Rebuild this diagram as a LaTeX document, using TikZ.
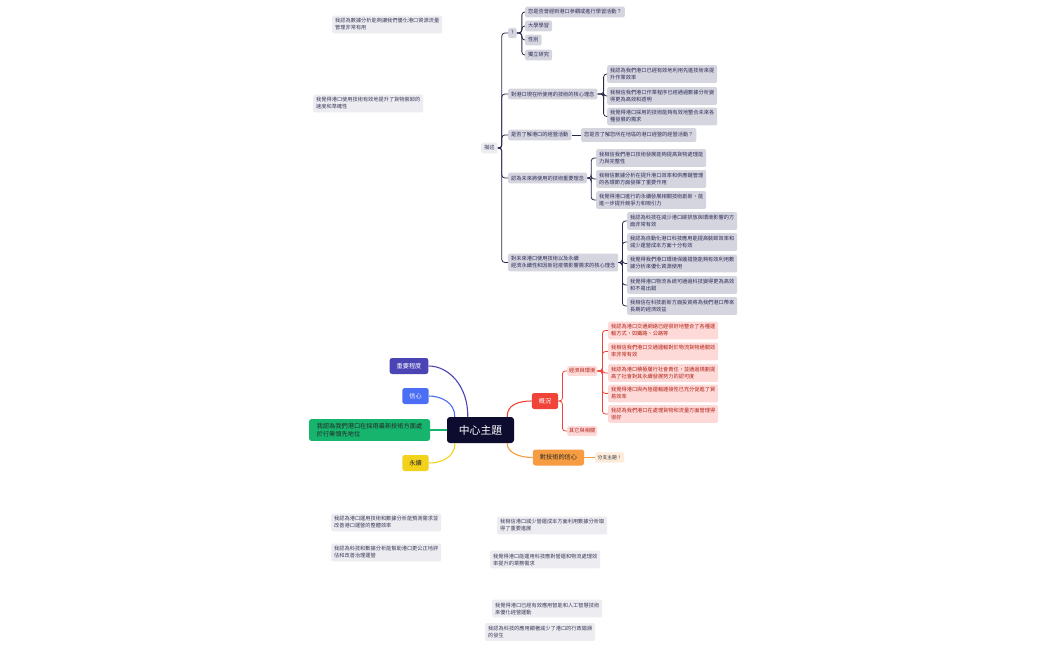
\documentclass[tikz,border=0pt]{standalone}
\usepackage{fontspec}
\setmainfont{Noto Sans CJK TC}
\usetikzlibrary{calc}
\definecolor{tline}{HTML}{2A2A4A}
\definecolor{tfill}{HTML}{D5D5DF}
\definecolor{ttext}{HTML}{2D2D5A}
\definecolor{nfill}{HTML}{EDEDF1}
\definecolor{ntext}{HTML}{3A3A5A}
\definecolor{ctrfill}{HTML}{0D0B2E}
\definecolor{indig}{HTML}{4B44B5}
\definecolor{bluec}{HTML}{4C6EF5}
\definecolor{greenc}{HTML}{17B46E}
\definecolor{yellc}{HTML}{F2D21C}
\definecolor{redc}{HTML}{F04438}
\definecolor{orangec}{HTML}{F79C42}
\definecolor{pfill}{HTML}{FDD9D7}
\definecolor{ptext}{HTML}{B42318}
\definecolor{peach}{HTML}{FDEBDC}
\tikzset{
  basebox/.style={font=\fontsize{5.2}{7}\selectfont, align=left, inner xsep=3pt, inner ysep=3pt, rounded corners=2pt, anchor=west},
  gnode/.style={basebox, fill=tfill, text=ttext},
  notebox/.style={basebox, fill=nfill, text=ntext},
  pnode/.style={basebox, fill=pfill, text=ptext},
  branch/.style={font=\fontsize{6.2}{8}\selectfont, inner xsep=7pt, minimum height=16pt, rounded corners=2.5pt},
  tl/.style={draw=tline, line width=0.8pt, rounded corners=3pt},
  rl/.style={draw=redc, line width=0.8pt, rounded corners=3pt},
}
\begin{document}
\begin{tikzpicture}[x=1pt,y=-1pt]
\useasboundingbox[fill=white] (0,0) rectangle (1049,650);

% floating notes
\node[notebox] (n1) at (332,24.5) {我認為數據分析能夠讓我們優化港口資源流量\\管理非常有用};
\node[notebox] (n2) at (313,103.5) {我覺得港口使用技術有效地提升了貨物裝卸的\\速度和準確性};
\node[notebox] (n3) at (331,522.5) {我認為港口運用技術和數據分析能預測需求並\\改善港口運營的整體效率};
\node[notebox] (n4) at (331,552.5) {我認為科技和數據分析能幫助港口更公正地評\\估和改善治理運營};
\node[notebox] (n5) at (497,525.5) {我相信港口減少營運成本方面利用數據分析取\\得了重要進展};
\node[notebox] (n6) at (490,559.5) {我覺得港口能運用科技應對營運和物流處理效\\率提升的業務需求};
\node[notebox] (n7) at (492,608.5) {我覺得港口已經有效應用智能和人工智慧技術\\來優化經營運動};
\node[notebox] (n8) at (485,632) {我認為科技的應用顯著減少了港口的行政錯誤\\的發生};

% top tree
\node[notebox] (desc) at (481,148) {描述};
\node[gnode] (q) at (508,33) {?};
\node[gnode] (q1) at (525,12) {您是否曾經到港口參觀或進行學習活動？};
\node[gnode] (q2) at (525,26) {大學學習};
\node[gnode] (q3) at (525,40) {性別};
\node[gnode] (q4) at (525,55) {獨立研究};
\node[gnode] (a) at (508,94) {對港口現在所使用的技術的核心理念};
\node[gnode] (a1) at (607,74) {我認為我們港口已經有效地利用先進技術來提\\升作業效率};
\node[gnode] (a2) at (607,96) {我相信我們港口作業程序已經通過數據分析變\\得更為高效和透明};
\node[gnode] (a3) at (607,116.5) {我覺得港口採用的技術能夠有效地整合未來各\\種發展的需求};
\node[gnode] (b) at (508,135) {是否了解港口的經營活動};
\node[gnode, inner ysep=4.5pt] (b1) at (581,135) {您是否了解您所在地區的港口經營的經營活動？};
\node[gnode] (c) at (508,178) {認為未來將使用的技術重要理念};
\node[gnode] (c1) at (596,158) {我相信我們港口技術發展能夠提高貨物處理能\\力與完整性};
\node[gnode] (c2) at (596,179) {我相信數據分析在提升港口效率和供應鏈管理\\的各環節方面發揮了重要作用};
\node[gnode] (c3) at (596,200) {我覺得港口進行的永續發展相關技術創新，能\\進一步提升競爭力和吸引力};
\node[gnode] (d) at (508,262.5) {對未來港口使用技術以及永續\\經濟永續性和因新冠疫情影響需求的核心理念};
\node[gnode] (d1) at (627,221) {我認為科技在減少港口碳排放與環境影響的方\\面非常有效};
\node[gnode] (d2) at (627,242) {我認為自動化港口科技應用能提高裝卸效率和\\減少運營成本方面十分有效};
\node[gnode] (d3) at (627,263.5) {我覺得我們港口環境保護措施能夠有效利用數\\據分析來優化資源使用};
\node[gnode] (d4) at (627,285) {我覺得港口物流系統可通過科技變得更為高效\\和不易出錯};
\node[gnode] (d5) at (627,306) {我相信在科技創新方面投資將為我們港口帶來\\長期的經濟效益};

\foreach \t in {q,a,b,c,d} \draw[tl] (desc.east) -- ++(4,0) |- (\t.west);
\foreach \t in {q1,q2,q3,q4} \draw[tl] (q.east) -- ++(5,0) |- (\t.west);
\foreach \t in {a1,a2,a3} \draw[tl] (a.east) -- ++(6,0) |- (\t.west);
\draw[tl] (b.east) -- (b1.west);
\foreach \t in {c1,c2,c3} \draw[tl] (c.east) -- ++(4,0) |- (\t.west);
\foreach \t in {d1,d2,d3,d4,d5} \draw[tl] (d.east) -- ++(4,0) |- (\t.west);

% central part
\node[fill=ctrfill, text=white, font=\fontsize{10.8}{12}\selectfont, minimum width=67pt, minimum height=26pt, rounded corners=3pt] (ctr) at (480.5,430) {中心主題};
\node[branch, fill=indig, text=white] (imp) at (409,366) {重要程度};
\node[branch, fill=bluec, text=white] (conf) at (415.5,396) {信心};
\node[branch, fill=greenc, text=black!85, align=left, inner xsep=5pt, inner ysep=4pt, minimum width=121pt] (grn) at (369.5,430) {我認為我們港口在採用最新技術方面處\\於行業領先地位};
\node[branch, fill=yellc, text=black!85] (sus) at (415.5,463) {永續};
\node[branch, fill=redc, text=white] (gk) at (545,401) {概況};
\node[branch, fill=orangec, text=black!85] (tech) at (558.5,457.5) {對技術的信心};
\node[basebox, fill=peach, text=black!80, font=\fontsize{4.8}{6}\selectfont, inner xsep=2.5pt] (pch) at (595,457.5) {分支主題！};

\draw[indig, line width=1.1pt] ($(ctr.north west)+(21,0)$) .. controls (468,385) and (448,366) .. (imp.east);
\draw[bluec, line width=1.1pt] ($(ctr.north west)+(8,0)$) .. controls (455,402) and (440,396) .. (conf.east);
\draw[greenc, line width=1.1pt] (ctr.west) -- (grn.east);
\draw[yellc, line width=1.1pt] ($(ctr.south west)+(8,0)$) .. controls (455,458) and (440,463) .. (sus.east);
\draw[redc, line width=1.1pt] ($(ctr.north east)+(-7,0)$) .. controls (507,405) and (518,401) .. (gk.west);
\draw[orangec, line width=1.1pt] ($(ctr.south east)+(-7,0)$) .. controls (507,452) and (518,457.5) .. (tech.west);
\draw[orangec, line width=0.7pt] (tech.east) -- (pch.west);

% red subtree
\node[pnode, inner xsep=2pt, inner ysep=2.5pt] (ep) at (567,371) {經濟與環境};
\node[pnode, inner xsep=2pt, inner ysep=2.5pt] (ot) at (567,431) {其它與相關};
\node[pnode] (p1) at (608,330.5) {我認為港口交通網絡已經很好地整合了各種運\\輸方式，如鐵路、公路等};
\node[pnode] (p2) at (608,351.5) {我相信我們港口交通運輸對於物流貨物通關效\\率非常有效};
\node[pnode] (p3) at (608,373) {我認為港口積極履行社會責任，並通過規劃提\\高了社會對其永續發展努力的認可度};
\node[pnode] (p4) at (608,393.5) {我覺得港口與內陸運輸連接性已充分促進了貿\\易效率};
\node[pnode] (p5) at (608,414) {我認為我們港口在處理貨物和流量方面管理得\\很好};
\foreach \t in {ep,ot} \draw[rl] (gk.east) -- ++(4,0) |- (\t.west);
\foreach \t in {p1,p2,p3,p4,p5} \draw[rl] (ep.east) -- ++(5,0) |- (\t.west);
\end{tikzpicture}
\end{document}
